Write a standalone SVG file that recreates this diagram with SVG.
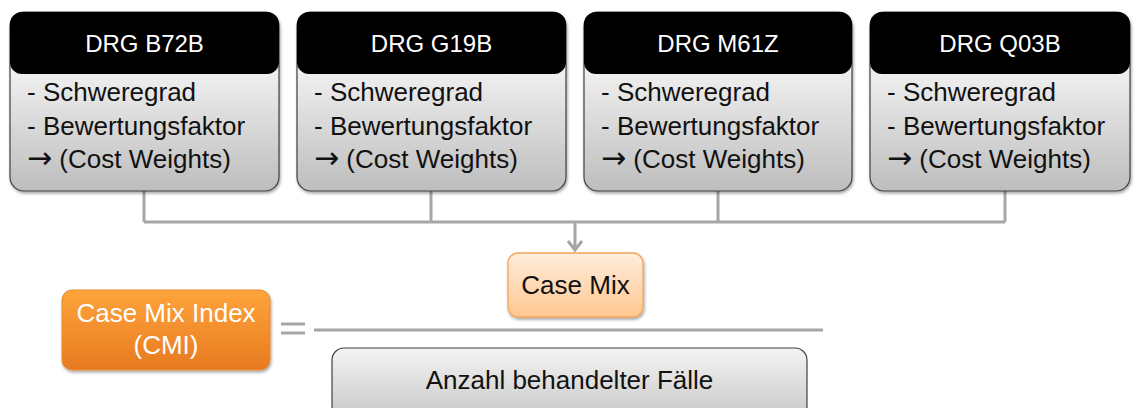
<svg xmlns="http://www.w3.org/2000/svg" width="1138" height="408" viewBox="0 0 1138 408">
<defs>
<linearGradient id="gBody" x1="0" y1="0" x2="0" y2="1">
<stop offset="0.3" stop-color="#f2f2f2"/><stop offset="1" stop-color="#bdbdbd"/>
</linearGradient>
<linearGradient id="gPeach" x1="0" y1="0" x2="0" y2="1">
<stop offset="0" stop-color="#ffeedd"/><stop offset="1" stop-color="#ffc690"/>
</linearGradient>
<linearGradient id="gOrange" x1="0" y1="0" x2="0" y2="1">
<stop offset="0" stop-color="#ffa43c"/><stop offset="1" stop-color="#e77a20"/>
</linearGradient>
<linearGradient id="gGray" x1="0" y1="0" x2="0" y2="1">
<stop offset="0" stop-color="#f4f4f4"/><stop offset="1" stop-color="#c8c8c8"/>
</linearGradient>
<filter id="sh" x="-10%" y="-10%" width="120%" height="130%">
<feDropShadow dx="1" dy="2" stdDeviation="1.5" flood-color="#000" flood-opacity="0.35"/>
</filter>
</defs>
<style>
.body{fill:url(#gBody);stroke:#404040;stroke-width:1.2;filter:url(#sh)}
.head{fill:#000}
.ht{font-family:"Liberation Sans",Arial,sans-serif;font-size:24px;fill:#fff;text-anchor:middle}
.bt{font-family:"Liberation Sans",Arial,sans-serif;font-size:26px;fill:#111}
.ar{font-family:"DejaVu Sans",sans-serif;font-size:30px}
.conn{fill:none;stroke:#a6a6a6;stroke-width:3}
</style>
<g id="connectors">
<path class="conn" d="M144,191 V222 M431,191 V222 M718,191 V222 M1005,191 V222 M144,222 H1005"/>
<path class="conn" d="M575,222 V250 M568,241 L575,250 L582,241"/>
<path d="M281,324 H305 M281,333 H305" stroke="#a6a6a6" stroke-width="3"/>
<path d="M314,330 H823" stroke="#a6a6a6" stroke-width="3"/>
</g>
<g id="drg1">
<rect class="body" x="10" y="12" width="269" height="179" rx="14"/>
<rect class="head" x="10" y="12" width="269" height="62" rx="12"/>
<text class="ht" x="144.5" y="52">DRG B72B</text>
<text class="bt" x="27" y="101">- Schweregrad</text>
<text class="bt" x="27" y="135">- Bewertungsfaktor</text>
<text class="bt" x="27" y="168"><tspan class="ar">→</tspan> (Cost Weights)</text>
</g>
<g id="drg2">
<rect class="body" x="297" y="12" width="269" height="179" rx="14"/>
<rect class="head" x="297" y="12" width="269" height="62" rx="12"/>
<text class="ht" x="431.5" y="52">DRG G19B</text>
<text class="bt" x="314" y="101">- Schweregrad</text>
<text class="bt" x="314" y="135">- Bewertungsfaktor</text>
<text class="bt" x="314" y="168"><tspan class="ar">→</tspan> (Cost Weights)</text>
</g>
<g id="drg3">
<rect class="body" x="584" y="12" width="268" height="179" rx="14"/>
<rect class="head" x="584" y="12" width="268" height="62" rx="12"/>
<text class="ht" x="718" y="52">DRG M61Z</text>
<text class="bt" x="601" y="101">- Schweregrad</text>
<text class="bt" x="601" y="135">- Bewertungsfaktor</text>
<text class="bt" x="601" y="168"><tspan class="ar">→</tspan> (Cost Weights)</text>
</g>
<g id="drg4">
<rect class="body" x="870" y="12" width="260" height="179" rx="14"/>
<rect class="head" x="870" y="12" width="260" height="62" rx="12"/>
<text class="ht" x="1000" y="52">DRG Q03B</text>
<text class="bt" x="887" y="101">- Schweregrad</text>
<text class="bt" x="887" y="135">- Bewertungsfaktor</text>
<text class="bt" x="887" y="168"><tspan class="ar">→</tspan> (Cost Weights)</text>
</g>
<g id="casemix">
<rect x="508" y="253" width="135" height="64" rx="10" fill="url(#gPeach)" stroke="#f5a45a" stroke-width="1.3" filter="url(#sh)"/>
<text class="bt" x="575.5" y="294" text-anchor="middle">Case Mix</text>
</g>
<g id="cmi">
<rect x="62" y="290" width="208" height="80" rx="10" fill="url(#gOrange)" stroke="#e88a30" stroke-width="1" filter="url(#sh)"/>
<text class="bt" x="166" y="322" text-anchor="middle" style="fill:#fff">Case Mix Index</text>
<text class="bt" x="166" y="354" text-anchor="middle" style="fill:#fff">(CMI)</text>
</g>
<g id="anzahl">
<rect x="332" y="348" width="475" height="70" rx="12" fill="url(#gGray)" stroke="#404040" stroke-width="1.2"/>
<text class="bt" x="569.5" y="389" text-anchor="middle">Anzahl behandelter Fälle</text>
</g>
</svg>
